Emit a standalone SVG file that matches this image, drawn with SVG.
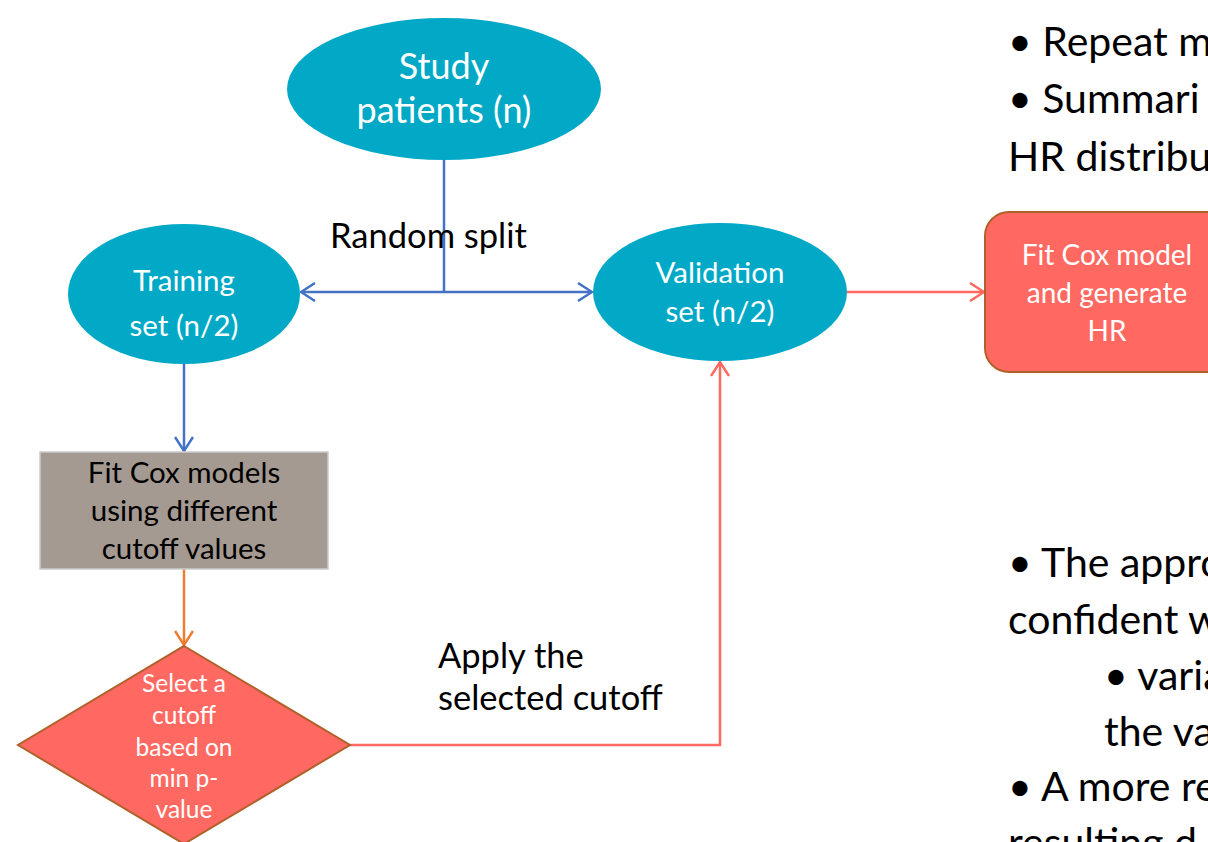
<svg xmlns="http://www.w3.org/2000/svg" width="1208" height="842" viewBox="0 0 1208 842">
<defs>
<style>
text{font-family:Lato,"Open Sans","Liberation Sans",sans-serif}
.w{fill:#fff;text-anchor:middle}
.k{fill:#000}
.ell{fill:#02A9C6}
.red{fill:#FF6961;stroke:#B0602A;stroke-width:2}
.blue{stroke:#4472C4;stroke-width:2.5;fill:none}
.org{stroke:#ED7D31;stroke-width:2.5;fill:none}
.rl{stroke:#FF6961;stroke-width:2.5;fill:none}
</style>
<marker id="ab" viewBox="0 0 20 20" refX="19" refY="10" markerWidth="20" markerHeight="20" markerUnits="userSpaceOnUse" orient="auto-start-reverse"><path d="M5,1 L19,10 L5,19" fill="none" stroke="#4472C4" stroke-width="2.5"/></marker>
<marker id="ao" viewBox="0 0 20 20" refX="19" refY="10" markerWidth="20" markerHeight="20" markerUnits="userSpaceOnUse" orient="auto"><path d="M5,1 L19,10 L5,19" fill="none" stroke="#ED7D31" stroke-width="2.5"/></marker>
<marker id="ar" viewBox="0 0 20 20" refX="19" refY="10" markerWidth="20" markerHeight="20" markerUnits="userSpaceOnUse" orient="auto"><path d="M5,1 L19,10 L5,19" fill="none" stroke="#FF6961" stroke-width="2.5"/></marker>
</defs>
<rect width="1208" height="842" fill="#fff"/>
<g id="connectors">
<line class="blue" x1="444" y1="160" x2="444" y2="292"/>
<line class="blue" x1="444" y1="292" x2="301" y2="292" marker-end="url(#ab)"/>
<line class="blue" x1="444" y1="292" x2="592" y2="292" marker-end="url(#ab)"/>
<line class="blue" x1="184" y1="364" x2="184" y2="451" marker-end="url(#ab)"/>
<line class="org" x1="184" y1="569" x2="184" y2="645" marker-end="url(#ao)"/>
<polyline class="rl" points="350,745 720,745 720,362" marker-end="url(#ar)"/>
<line class="rl" x1="847" y1="292" x2="984" y2="292" marker-end="url(#ar)"/>
</g>
<g id="study">
<ellipse class="ell" cx="444" cy="89" rx="157" ry="71"/>
<text class="w" x="444" y="79" font-size="36">Study</text>
<text class="w" x="444" y="123" font-size="36">patients (n)</text>
</g>
<g id="split-label">
<text class="k" x="330" y="248" font-size="34.5">Random split</text>
</g>
<g id="training">
<ellipse class="ell" cx="184" cy="294" rx="116" ry="70"/>
<text class="w" x="184" y="291" font-size="29.5">Training</text>
<text class="w" x="184" y="336" font-size="29.5">set (n/2)</text>
</g>
<g id="validation">
<ellipse class="ell" cx="720" cy="292" rx="127" ry="69"/>
<text class="w" x="720" y="283" font-size="29.5">Validation</text>
<text class="w" x="720" y="322" font-size="29.5">set (n/2)</text>
</g>
<g id="fitcox">
<rect class="red" x="985" y="212" width="260" height="160" rx="24"/>
<text class="w" x="1107" y="265" font-size="28">Fit Cox model</text>
<text class="w" x="1107" y="303" font-size="28">and generate</text>
<text class="w" x="1107" y="341" font-size="28">HR</text>
</g>
<g id="models">
<rect x="40" y="452" width="288" height="117" fill="#A59A91" stroke="#CBCBCB" stroke-width="1.5"/>
<text x="184" y="483" font-size="29.5" text-anchor="middle">Fit Cox models</text>
<text x="184" y="521" font-size="29.5" text-anchor="middle">using different</text>
<text x="184" y="559" font-size="29.5" text-anchor="middle">cutoff values</text>
</g>
<g id="select">
<polygon class="red" points="184,646 350,745 184,844 18,745"/>
<text class="w" x="184" y="692" font-size="24.5">Select a</text>
<text class="w" x="184" y="724" font-size="24.5">cutoff</text>
<text class="w" x="184" y="756" font-size="24.5">based on</text>
<text class="w" x="184" y="787" font-size="24.5">min p-</text>
<text class="w" x="184" y="818" font-size="24.5">value</text>
</g>
<g id="apply-label">
<text class="k" x="438" y="668" font-size="34.5">Apply the</text>
<text class="k" x="438" y="710" font-size="34.5">selected cutoff</text>
</g>
<g id="notes" font-size="41">
<text x="1008" y="56">• Repeat m</text>
<text x="1008" y="113">• Summari</text>
<text x="1008" y="171">HR distribu</text>
<text x="1008" y="577">• The appro</text>
<text x="1008" y="634">confident w</text>
<text x="1104" y="690">• varia</text>
<text x="1104" y="746">the va</text>
<text x="1008" y="801">• A more re</text>
<text x="1008" y="857">resulting d</text>
</g>
</svg>
